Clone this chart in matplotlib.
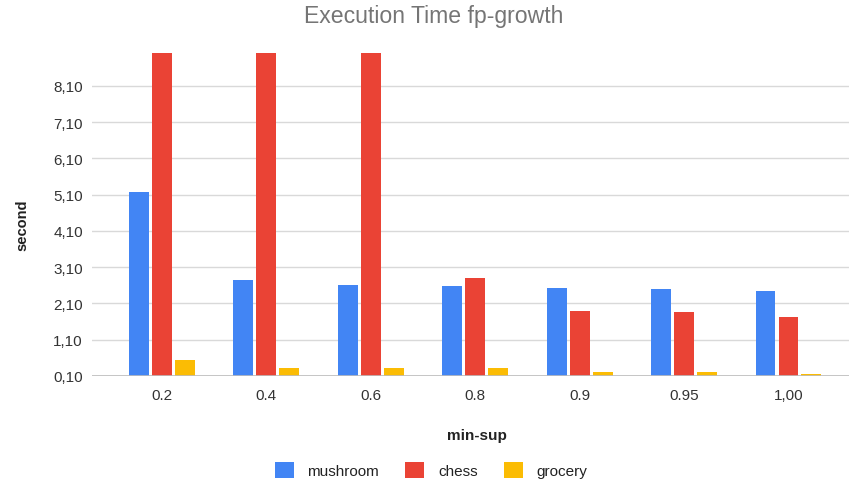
import numpy as np
import matplotlib
matplotlib.use('Agg')
import matplotlib.pyplot as plt
from matplotlib.patches import Patch

# --- data (seconds); chess values for the lowest supports run off the scale
min_sup = ['0.2', '0.4', '0.6', '0.8', '0.9', '0.95', '1,00']
mushroom = [5.18, 2.76, 2.60, 2.59, 2.54, 2.50, 2.45]
chess = [10.0, 10.0, 10.0, 2.80, 1.90, 1.87, 1.74]
grocery = [0.54, 0.33, 0.33, 0.33, 0.20, 0.20, 0.16]

series = [('mushroom', mushroom, '#4285F4'),
          ('chess', chess, '#EA4335'),
          ('grocery', grocery, '#FBBC04')]

y_ticks = [0.1, 1.1, 2.1, 3.1, 4.1, 5.1, 6.1, 7.1, 8.1]

plt.rcParams['font.family'] = ['Liberation Sans', 'DejaVu Sans']

fig = plt.figure(figsize=(8.49, 4.81), dpi=100)
ax = fig.add_axes([92/849, 1 - 377/481, 1 - 92/849, (377 - 54)/481])

x = np.arange(len(min_sup))
width = 0.19
step = 0.22
for i, (name, vals, col) in enumerate(series):
    ax.bar(x + (i - 1)*step, vals, width, bottom=0, color=col, zorder=3)

ax.set_xlim(-0.67, 6.58)
ax.set_ylim(0.1, 9.01)
ax.set_yticks(y_ticks)
ax.set_yticklabels([f'{v:.2f}'.replace('.', ',') for v in y_ticks])
ax.set_xticks(x)
ax.set_xticklabels(min_sup)

for s in ax.spines.values():
    s.set_visible(False)
ax.tick_params(length=0, labelsize=11, labelcolor='#333333')
ax.tick_params(axis='x', pad=9)
ax.tick_params(axis='y', pad=6.5)
ax.grid(axis='y', color='#d9d9d9', linewidth=1, zorder=0)
ax.axhline(0.1, color='#bdbdbd', linewidth=1.2, zorder=4)

ax.set_ylabel('second', fontsize=10.5, fontweight='bold', color='#222222')
ax.yaxis.set_label_coords((29 - 92)/757, 0.47)
ax.set_xlabel('min-sup', fontsize=11, fontweight='bold', color='#222222')
ax.xaxis.set_label_coords((477 - 92)/757, -(52 / 323))

fig.suptitle('Execution Time fp-growth', x=434/849, y=1 - 17/481,
             va='center', fontsize=16.6, color='#757575')

handles = [Patch(facecolor=c, edgecolor='none', label=n) for n, _, c in series]
fig.legend(handles=handles, loc='center', ncol=3, frameon=False,
           bbox_to_anchor=(431/849, 1 - 471/481), fontsize=11,
           handlelength=1.25, handleheight=1.25, handletextpad=0.9,
           columnspacing=1.7, labelcolor='#222222')

fig.savefig('out.png', dpi=100)
